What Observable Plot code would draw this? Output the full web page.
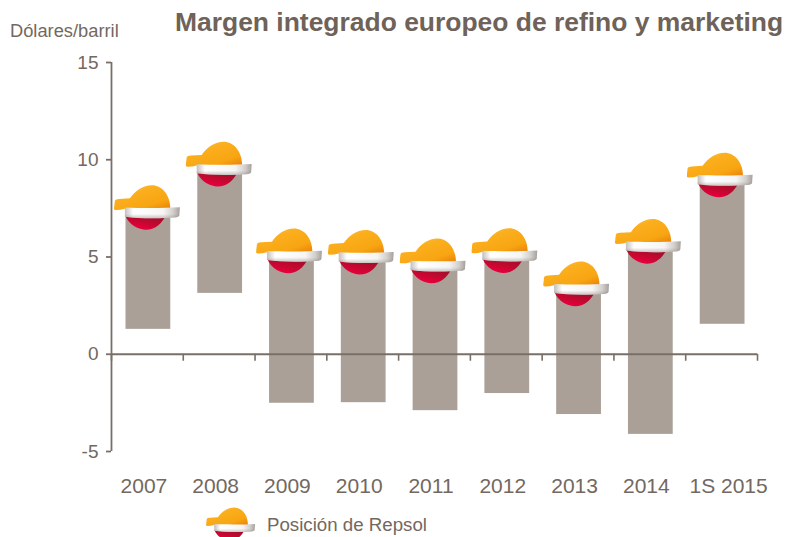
<!DOCTYPE html>
<html><head><meta charset="utf-8">
<script src="https://cdn.jsdelivr.net/npm/d3@7"></script>
<script src="https://cdn.jsdelivr.net/npm/@observablehq/plot@0.6"></script>
<style>
html,body{margin:0;padding:0;width:786px;height:537px;overflow:hidden;background:#fff}
body{position:relative;font-family:"Liberation Sans",Arial,sans-serif;color:#736860}
.t{position:absolute;white-space:nowrap;line-height:1}
#chart svg{display:block}
</style></head><body>
<div id="chart"></div>
<div class="t" style="left:175px;top:9px;font-size:26.45px;font-weight:bold;color:#6e6259">Margen integrado europeo de refino y marketing</div>
<div class="t" style="left:10px;top:22px;font-size:18.3px;">Dólares/barril</div>
<div class="t" style="left:267px;top:516px;font-size:18.7px;">Posición de Repsol</div>
<script>
const categories = ["2007","2008","2009","2010","2011","2012","2013","2014","1S 2015"];
const lows  = [1.28, 3.13, -2.52, -2.49, -2.9, -2.02, -3.1, -4.12, 1.54];
const highs = [7.27, 9.5, 5.04, 4.97, 4.53, 5.05, 3.34, 5.53, 8.94];
const yTicks = [-5, 0, 5, 10, 15];
const rows = categories.map((c, i) => ({c, low: lows[i], high: highs[i]}));
const axisColor = "#7a6f67", barColor = "#aaa097", textColor = "#736860";

const hat = `<svg xmlns="http://www.w3.org/2000/svg" viewBox="-35 -35 70 70" width="140" height="140">
<defs>
<linearGradient id="o" x1="0.1" y1="0" x2="0.9" y2="1"><stop offset="0" stop-color="#fcc04a"/><stop offset=".35" stop-color="#fbae1c"/><stop offset=".75" stop-color="#f8a512"/><stop offset="1" stop-color="#e9830a"/></linearGradient>
<linearGradient id="r" x1="0" y1="0" x2="1" y2="0"><stop offset="0" stop-color="#c4c0bc"/><stop offset=".15" stop-color="#ffffff"/><stop offset=".7" stop-color="#f6f5f4"/><stop offset=".88" stop-color="#d2cecb"/><stop offset="1" stop-color="#a5a09c"/></linearGradient>
<linearGradient id="b" x1="0" y1="0" x2="0" y2="1"><stop offset="0" stop-color="#8a8580" stop-opacity="0"/><stop offset=".6" stop-color="#8a8580" stop-opacity="0"/><stop offset="1" stop-color="#8a8580" stop-opacity=".45"/></linearGradient>
<linearGradient id="s" x1="0.8" y1="0" x2="0.2" y2="1"><stop offset="0" stop-color="#9c0f2a"/><stop offset=".45" stop-color="#c0092f"/><stop offset=".8" stop-color="#e4003a"/></linearGradient>
</defs>
<path d="M-23.5 3 C-20 12 -10 17 -3 17 C6 17 13 11 16.5 3 Z" fill="url(#s)"/>
<path d="M-34 -12 C-33.5 -13.5 -32 -13.8 -30 -13.9 L-19 -14.5 C-14 -22 -6 -27.7 3 -27.7 C13 -27.7 21.5 -18 21.5 -4 L-24 -4 C-27 -3.2 -30 -2.8 -33 -2.8 C-34.5 -2.8 -35 -3.5 -34.8 -5 Z" fill="url(#o)"/>
<path d="M-24 -5.3 C-8 -4.6 15 -4.6 31 -5.5 L30.5 2.5 C30 4 28.5 4.5 26 4.7 C10 5.8 -10 5.8 -24 3.8 Z" fill="url(#r)"/>
<path d="M-24 -5.3 C-8 -4.6 15 -4.6 31 -5.5 L30.5 2.5 C30 4 28.5 4.5 26 4.7 C10 5.8 -10 5.8 -24 3.8 Z" fill="url(#b)"/>
</svg>`;
const hatUri = "data:image/svg+xml," + encodeURIComponent(hat);

const plot = Plot.plot({
  width: 786, height: 537,
  marginLeft: 111, marginRight: 29, marginTop: 62, marginBottom: 86,
  style: {fontFamily: '"Liberation Sans",Arial,sans-serif', color: textColor, background: "transparent"},
  x: {type: "band", domain: categories, padding: 0, round: false, label: null},
  y: {domain: [-5, 15], range: [451, 62], label: null},
  marks: [
    Plot.barY(rows, {x: "c", y1: "low", y2: "high", fill: barColor, insetLeft: 14.5, insetRight: 12.5}),
    Plot.axisY({ticks: yTicks, tickSize: 5, tickPadding: 8, tickFormat: d => String(d), fontSize: 19, stroke: axisColor, strokeWidth: 1.8, label: null, color: textColor}),
    Plot.axisX({ticks: categories.slice(0, -1), tickSize: 0, tickPadding: 27, fontSize: 21, dx: -3.5, label: null, color: textColor}),
    Plot.axisX({ticks: categories.slice(-1), tickSize: 0, tickPadding: 27, fontSize: 21, dx: 7, label: null, color: textColor}),
    Plot.ruleX(categories, {x: d => d, y1: 0, y2: -0.36, dx: -35.9, stroke: axisColor, strokeWidth: 1.6}),
    Plot.ruleX(categories.slice(-1), {x: d => d, y1: 0, y2: -0.36, dx: 35.9, stroke: axisColor, strokeWidth: 1.6}),
    Plot.ruleX(categories.slice(0, 1), {x: d => d, y1: -5, y2: 15, dx: -35.9, stroke: axisColor, strokeWidth: 1.8}),
    Plot.ruleY([0], {stroke: axisColor, strokeWidth: 2}),
    Plot.image(rows.slice(2), {x: "c", y: "high", src: () => hatUri, width: 70, height: 70}),
    Plot.image(rows.slice(0, 2), {x: "c", y: "high", src: () => hatUri, width: 70, height: 70, dx: 1.5})
  ]
});
document.getElementById("chart").appendChild(plot);

const legendHat = document.createElement("img");
legendHat.src = hatUri;
legendHat.style.cssText = "position:absolute;left:206px;top:501.5px;width:52px;height:52px";
document.body.appendChild(legendHat);
</script>
</body></html>
